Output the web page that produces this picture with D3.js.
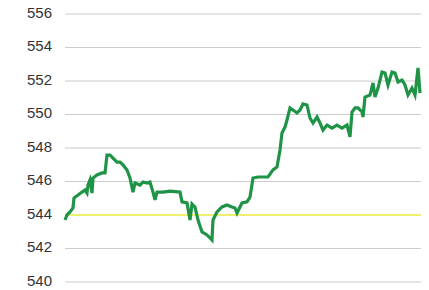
<!DOCTYPE html>
<html>
<head>
<meta charset="utf-8">
<script src="https://cdn.jsdelivr.net/npm/d3@7"></script>
<style>
  body { margin: 0; background: #fff; }
  svg { display: block; }
</style>
</head>
<body>
<div id="chart"></div>
<script>
// intraday steps and prices
var steps = [0,2,5,8,9,13,17,20,22,23,25,27,28,32,37,40,42,45,48,52,55,58,62,65,68,70,75,78,82,85,88,90,92,98,105,115,117,122,125,127,130,133,137,142,147,148,152,157,162,167,170,172,177,182,185,188,193,203,208,212,215,217,220,222,225,228,232,235,238,242,245,248,252,255,258,262,267,272,277,282,285,287,290,293,297,298,300,305,308,310,313,317,320,323,327,330,333,337,340,343,347,350,353,355];
var prices = [543.70,544.00,544.18,544.42,545.01,545.19,545.37,545.49,545.31,545.79,546.09,545.31,546.21,546.39,546.51,546.51,547.58,547.58,547.40,547.16,547.16,546.99,546.69,546.21,545.37,545.91,545.79,545.97,545.91,545.97,545.37,544.90,545.37,545.37,545.43,545.37,544.78,544.72,543.70,544.66,544.48,543.70,542.99,542.81,542.51,543.70,544.18,544.48,544.60,544.48,544.42,544.12,544.72,544.78,545.07,546.21,546.27,546.27,546.69,546.87,547.88,548.90,549.25,549.67,550.39,550.27,550.09,550.27,550.63,550.57,549.79,549.49,549.85,549.49,549.07,549.37,549.19,549.37,549.19,549.37,548.66,550.15,550.39,550.39,550.15,549.85,551.04,551.16,551.88,551.04,551.58,552.54,552.48,551.76,552.54,552.48,551.94,552.06,551.76,551.16,551.58,551.16,552.78,551.28];
var yTicks = [540, 542, 544, 546, 548, 550, 552, 554, 556];
var prevClose = 544;

var w = 429;
var h = 290;
var margin = {top: 14, right: 8, bottom: 8, left: 65};

var svg = d3.select("#chart")
  .append("svg")
  .attr("width", w)
  .attr("height", h);

var x = d3.scaleLinear()
  .domain([0, 355])
  .range([margin.left, 420]);

var y = d3.scaleLinear()
  .domain([540, 556])
  .range([282, margin.top]);

// grid
svg.selectAll("line.grid")
  .data(yTicks)
  .enter()
  .append("line")
    .attr("class", "grid")
    .attr("x1", margin.left)
    .attr("x2", 421)
    .attr("y1", function(d){ return y(d); })
    .attr("y2", function(d){ return y(d); })
    .attr("stroke", "#cccccc")
    .attr("stroke-width", 1.2);

// labels
svg.selectAll("text.lbl")
  .data(yTicks)
  .enter()
  .append("text")
    .attr("class", "lbl")
    .attr("x", 52)
    .attr("y", function(d){ return y(d); })
    .attr("text-anchor", "end")
    .attr("dominant-baseline", "middle")
    .style("font-family", "'Liberation Sans', Arial, sans-serif")
    .style("font-size", "15px")
    .attr("fill", "#333")
    .text(function(d){ return d; });

// previous close line
svg.append("line")
  .attr("x1", margin.left)
  .attr("x2", 421)
  .attr("y1", y(prevClose))
  .attr("y2", y(prevClose))
  .attr("stroke", "#f0f070")
  .attr("stroke-width", 2);

var line = d3.line()
  .x(function(d, i){ return x(steps[i]); })
  .y(function(d){ return y(d); });

svg.append("path")
  .datum(prices)
  .attr("d", line)
  .attr("fill", "none")
  .attr("stroke", "#1f9446")
  .attr("stroke-width", 3.2)
  .attr("stroke-linejoin", "miter");
</script>
</body>
</html>
